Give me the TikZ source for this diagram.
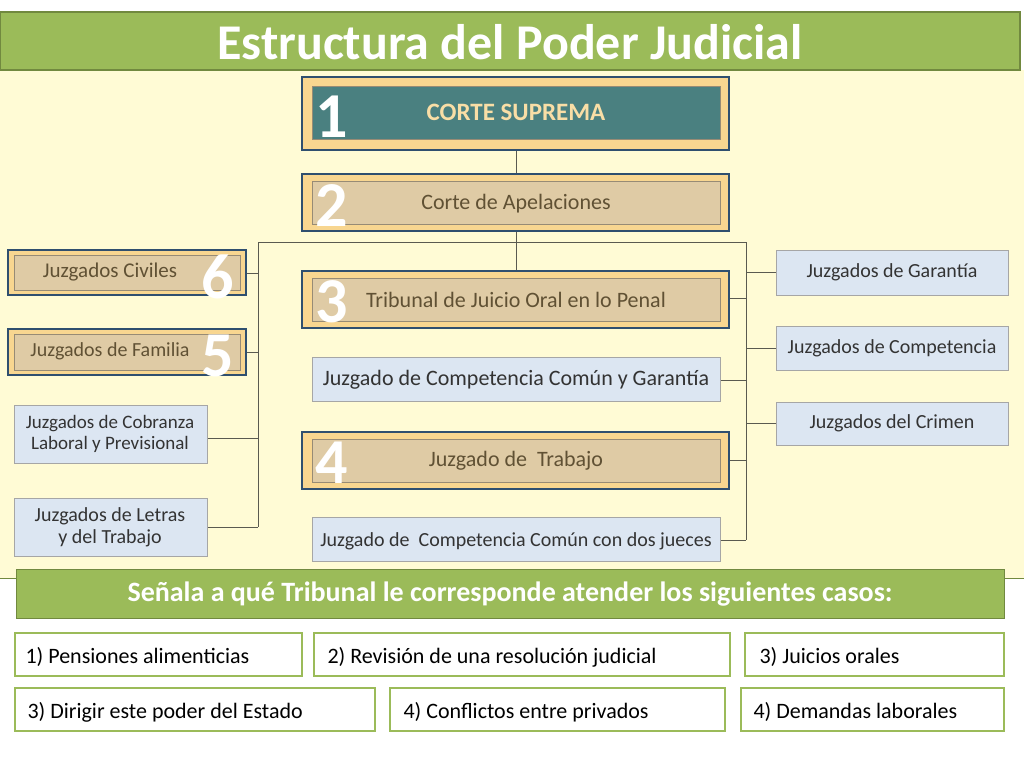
\documentclass[tikz,border=0pt]{standalone}
\usepackage{fontspec}
\setmainfont{Carlito}
\definecolor{cream}{HTML}{FFFBD5}
\definecolor{grn}{HTML}{9BBB59}
\definecolor{grnd}{HTML}{71893F}
\definecolor{navy}{HTML}{2F4F6F}
\definecolor{tan}{HTML}{DFCBA5}
\definecolor{gold}{HTML}{F8D690}
\definecolor{teal}{HTML}{4A8080}
\definecolor{lblue}{HTML}{DCE6F2}
\definecolor{brn}{HTML}{6B5A3A}
\definecolor{ln}{HTML}{5A5A50}
\begin{document}
\begin{tikzpicture}[x=1pt,y=-1pt,
  outer/.style={draw=navy,line width=1.8pt,fill=gold},
  inner/.style={draw=brn!70,line width=0.6pt,fill=tan},
  bluebox/.style={draw=gray!70,line width=0.8pt,fill=lblue},
  lbl/.style={text=brn!90!black,align=center},
  blbl/.style={text=black!80,align=center},
  num/.style={font=\fontsize{64}{64}\selectfont\bfseries,text=white},
  anstext/.style={font=\fontsize{22}{26}\selectfont,anchor=base west},
  con/.style={draw=ln,line width=0.7pt}]
\useasboundingbox (0,0) rectangle (1024,768);
\fill[white] (0,0) rectangle (1024,768);
\fill[cream] (0,70) rectangle (1024,578);
\draw[grnd,line width=1pt] (0,578) -- (1024,578);
% title
\fill[grn] (0,12) rectangle (1020,70);
\draw[grnd,line width=1.2pt] (0,12) rectangle (1020,70);
\node[font=\fontsize{50}{54}\selectfont\bfseries,text=white] (title) at (510,42) {Estructura del Poder Judicial};
% connectors
\coordinate (tl) at (258,242); \coordinate (tr) at (746,242);
\coordinate (bl) at (258,527); \coordinate (br) at (746,540);
\draw[con] (tl) -- (tr) (tl) -- (bl) (tr) -- (br);
\draw[con] (516,150) -- (516,272);
\draw[con] (246,273) -- (258,273) (246,352) -- (258,352) (207,438) -- (258,438) (207,527) -- (258,527);
\draw[con] (776,272) -- (746,272) (776,348) -- (746,348) (776,423) -- (746,423);
\draw[con] (729,298) -- (746,298) (720,380) -- (746,380) (729,460) -- (746,460) (720,540) -- (746,540);
% center boxes
\draw[outer] (302,77) rectangle (729,150);
\draw[draw=brn!70,fill=teal,line width=0.6pt] (312,86) rectangle (720,139);
\node[font=\fontsize{25}{28}\selectfont\bfseries,text=gold!80!white] (cs) at (516,112) {CORTE SUPREMA};
\draw[outer] (302,174) rectangle (729,231); \draw[inner] (312,181) rectangle (720,224);
\node[lbl,font=\fontsize{22}{26}\selectfont] (ca) at (516,204) {Corte de Apelaciones};
\draw[outer] (302,271) rectangle (729,328); \draw[inner] (312,278) rectangle (720,321);
\node[lbl,font=\fontsize{22}{26}\selectfont] (tj) at (516,300) {Tribunal de Juicio Oral en lo Penal};
\draw[bluebox] (312,357) rectangle (720,401);
\node[blbl,font=\fontsize{22}{26}\selectfont] (cg) at (516,380) {Juzgado de Competencia Común y Garantía};
\draw[outer] (302,432) rectangle (729,489); \draw[inner] (312,439) rectangle (720,482);
\node[lbl,font=\fontsize{22}{26}\selectfont] (jt) at (516,461) {Juzgado de\ \ Trabajo};
\draw[bluebox] (312,517) rectangle (720,561);
\node[blbl,font=\fontsize{20}{24}\selectfont] (dj) at (516,541) {Juzgado de\ \ Competencia Común con dos jueces};
% left
\draw[outer,line width=1.6pt] (8,250) rectangle (246,295); \draw[inner] (14,255) rectangle (240,290);
\node[lbl,font=\fontsize{21}{25}\selectfont] (jc) at (110,272) {Juzgados Civiles};
\draw[outer,line width=1.6pt] (8,329) rectangle (246,375); \draw[inner] (14,334) rectangle (240,370);
\node[lbl,font=\fontsize{20}{24}\selectfont] (jf) at (110,351) {Juzgados de Familia};
\draw[bluebox] (14,405) rectangle (207,463);
\node[blbl,font=\fontsize{19}{21}\selectfont] (jcl) at (110,434) {Juzgados de Cobranza\\Laboral y Previsional};
\draw[bluebox] (14,498) rectangle (207,556);
\node[blbl,font=\fontsize{20}{22}\selectfont] (jl) at (110,527) {Juzgados de Letras\\y del Trabajo};
% right
\draw[bluebox] (776,250) rectangle (1008,295);
\node[blbl,font=\fontsize{20}{24}\selectfont] (jg) at (892,272) {Juzgados de Garantía};
\draw[bluebox] (776,326) rectangle (1008,370);
\node[blbl,font=\fontsize{20}{24}\selectfont] (jco) at (892,348) {Juzgados de Competencia};
\draw[bluebox] (776,402) rectangle (1008,445);
\node[blbl,font=\fontsize{20}{24}\selectfont] (jcr) at (892,423) {Juzgados del Crimen};
% numbers
\node[num] (n1) at (332,117) {1};
\node[num] (n2) at (332,206) {2};
\node[num] (n3) at (332,302) {3};
\node[num] (n4) at (332,463) {4};
\node[num] (n6) at (218,277) {6};
\node[num] (n5) at (218,356) {5};
% bottom
\fill[grn] (16,569) rectangle (1004,618);
\draw[grnd,line width=1pt] (16,569) rectangle (1004,618);
\node[font=\fontsize{28}{32}\selectfont\bfseries,text=white] (q) at (510,594) {Señala a qué Tribunal le corresponde atender los siguientes casos:};
\draw[draw=grn,line width=1.3pt] (15,633) rectangle (302,676) (314,633) rectangle (730,676) (745,633) rectangle (1004,676);
\draw[draw=grn,line width=1.3pt] (15,688) rectangle (375,731) (390,688) rectangle (725,731) (741,688) rectangle (1004,731);
\node[anstext] (a1) at (22,663) {1) Pensiones alimenticias};
\node[anstext] (a2) at (324,663) {2) Revisión de una resolución judicial};
\node[anstext] (a3) at (756,663) {3) Juicios orales};
\node[anstext] (a4) at (24,718) {3) Dirigir este poder del Estado};
\node[anstext] (a5) at (400,718) {4) Conflictos entre privados};
\node[anstext] (a6) at (750,718) {4) Demandas laborales};
\end{tikzpicture}
\end{document}
